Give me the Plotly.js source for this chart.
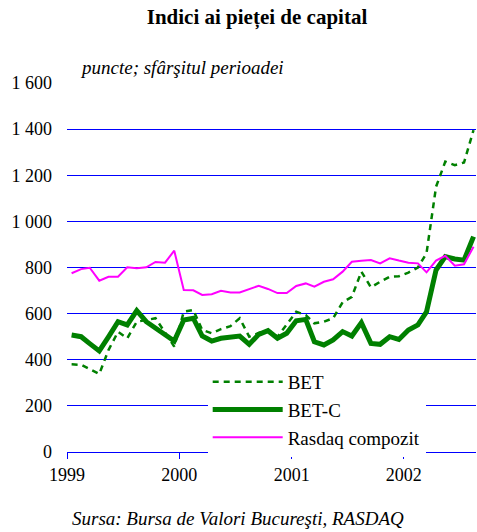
<!DOCTYPE html>
<html>
<head>
<meta charset="utf-8">
<script src="https://cdn.plot.ly/plotly-3.0.1.min.js"></script>
<style>
html,body{margin:0;padding:0;background:#fff;}
#chart{width:477px;height:532px;}
</style>
</head>
<body>
<div id="chart"></div>
<script>
var months = [
 "1999-01","1999-02","1999-03","1999-04","1999-05","1999-06","1999-07","1999-08","1999-09","1999-10","1999-11","1999-12",
 "2000-01","2000-02","2000-03","2000-04","2000-05","2000-06","2000-07","2000-08","2000-09","2000-10","2000-11","2000-12",
 "2001-01","2001-02","2001-03","2001-04","2001-05","2001-06","2001-07","2001-08","2001-09","2001-10","2001-11","2001-12",
 "2002-01","2002-02","2002-03","2002-04","2002-05","2002-06","2002-07","2002-08"
];
var bet = [380, 378, 359, 338, 442, 521, 493, 565, 572, 580, 518, 457,
           608, 616, 529, 515, 533, 546, 580, 500, 516, 529, 500, 551,
           608, 594, 558, 565, 580, 649, 673, 782, 714, 738, 760, 762,
           778, 800, 862, 1150, 1259, 1244, 1255, 1396];
var betc = [507, 500, 470, 438, 499, 565, 551, 613, 565, 536, 507, 481,
            572, 580, 503, 481, 493, 496, 503, 467, 510, 526, 493, 515,
            569, 575, 478, 464, 486, 522, 503, 561, 471, 467, 500, 488,
            529, 551, 608, 789, 847, 837, 832, 934];
var rasdaq = [775, 793, 799, 743, 760, 760, 801, 797, 801, 824, 821, 873,
              702, 701, 681, 684, 699, 692, 692, 705, 721, 707, 689, 689,
              720, 731, 717, 738, 749, 782, 825, 829, 832, 818, 840, 830,
              821, 818, 779, 830, 851, 808, 814, 890];
var seriesNames = ["BET", "BET-C", "Rasdaq compozit"];
var yTickVals = [0, 200, 400, 600, 800, 1000, 1200, 1400, 1600];
var yTickText = ["0", "200", "400", "600", "800", "1 000", "1 200", "1 400", "1 600"];
var xTickVals = ["1999-01-01", "2000-01-01", "2001-01-01", "2002-01-01"];
var xTickText = ["1999", "2000", "2001", "2002"];

var xs = months.map(function(m){ return m + "-16"; });
var FONT = "Liberation Serif, Times New Roman, serif";

var traces = [
  {x: xs, y: bet, name: seriesNames[0], type: "scatter", mode: "lines",
   line: {color: "#008000", width: 2.5, dash: "6px,5px"}},
  {x: xs, y: betc, name: seriesNames[1], type: "scatter", mode: "lines",
   line: {color: "#008000", width: 5}},
  {x: xs, y: rasdaq, name: seriesNames[2], type: "scatter", mode: "lines",
   line: {color: "#ff00ff", width: 2}}
];

var layout = {
  width: 477, height: 532,
  margin: {l: 67, r: 1, t: 83, b: 80, pad: 0},
  paper_bgcolor: "#ffffff", plot_bgcolor: "#ffffff",
  font: {family: FONT, size: 18, color: "#000000"},
  title: {text: "<b>Indici ai pieței de capital</b>", font: {family: FONT, size: 21, color: "#000"},
          xref: "paper", x: 0.4645, xanchor: "center", yref: "container", y: 0.968, yanchor: "middle"},
  xaxis: {type: "date", range: ["1999-01-01", "2002-08-24"],
          tickmode: "array", tickvals: xTickVals, ticktext: xTickText,
          ticks: "outside", ticklen: 6, tickwidth: 1, tickcolor: "rgb(0,0,255)",
          showline: true, linecolor: "rgb(0,0,255)", linewidth: 1,
          showgrid: false, zeroline: false,
          tickfont: {family: FONT, size: 18, color: "#000"}},
  yaxis: {range: [0, 1600], tickmode: "array", tickvals: yTickVals, ticktext: yTickText,
          showgrid: true, gridcolor: "rgb(0,0,255)", gridwidth: 1,
          showline: false, zeroline: false, ticks: "",
          ticklabelstandoff: 14,
          tickfont: {family: FONT, size: 18, color: "#000"}},
  showlegend: true,
  legend: {x: 0.344, y: 0.2415, xanchor: "left", yanchor: "top",
           bgcolor: "#ffffff", borderwidth: 0, itemwidth: 70,
           font: {family: FONT, size: 19, color: "#000"}, tracegroupgap: 0},
  annotations: [
    {text: "<i>puncte; sfârşitul perioadei</i>", xref: "paper", yref: "paper",
     x: 0.027, y: 1.0407, xanchor: "left", yanchor: "middle", showarrow: false,
     font: {family: FONT, size: 19, color: "#000"}},
    {text: "<i>Sursa: Bursa de Valori Bucureşti, RASDAQ</i>", xref: "paper", yref: "paper",
     x: 0.417, y: -0.179, xanchor: "center", yanchor: "middle", showarrow: false,
     font: {family: FONT, size: 19, color: "#000"}}
  ]
};

Plotly.newPlot("chart", traces, layout, {displayModeBar: false, staticPlot: true});
</script>
</body>
</html>
